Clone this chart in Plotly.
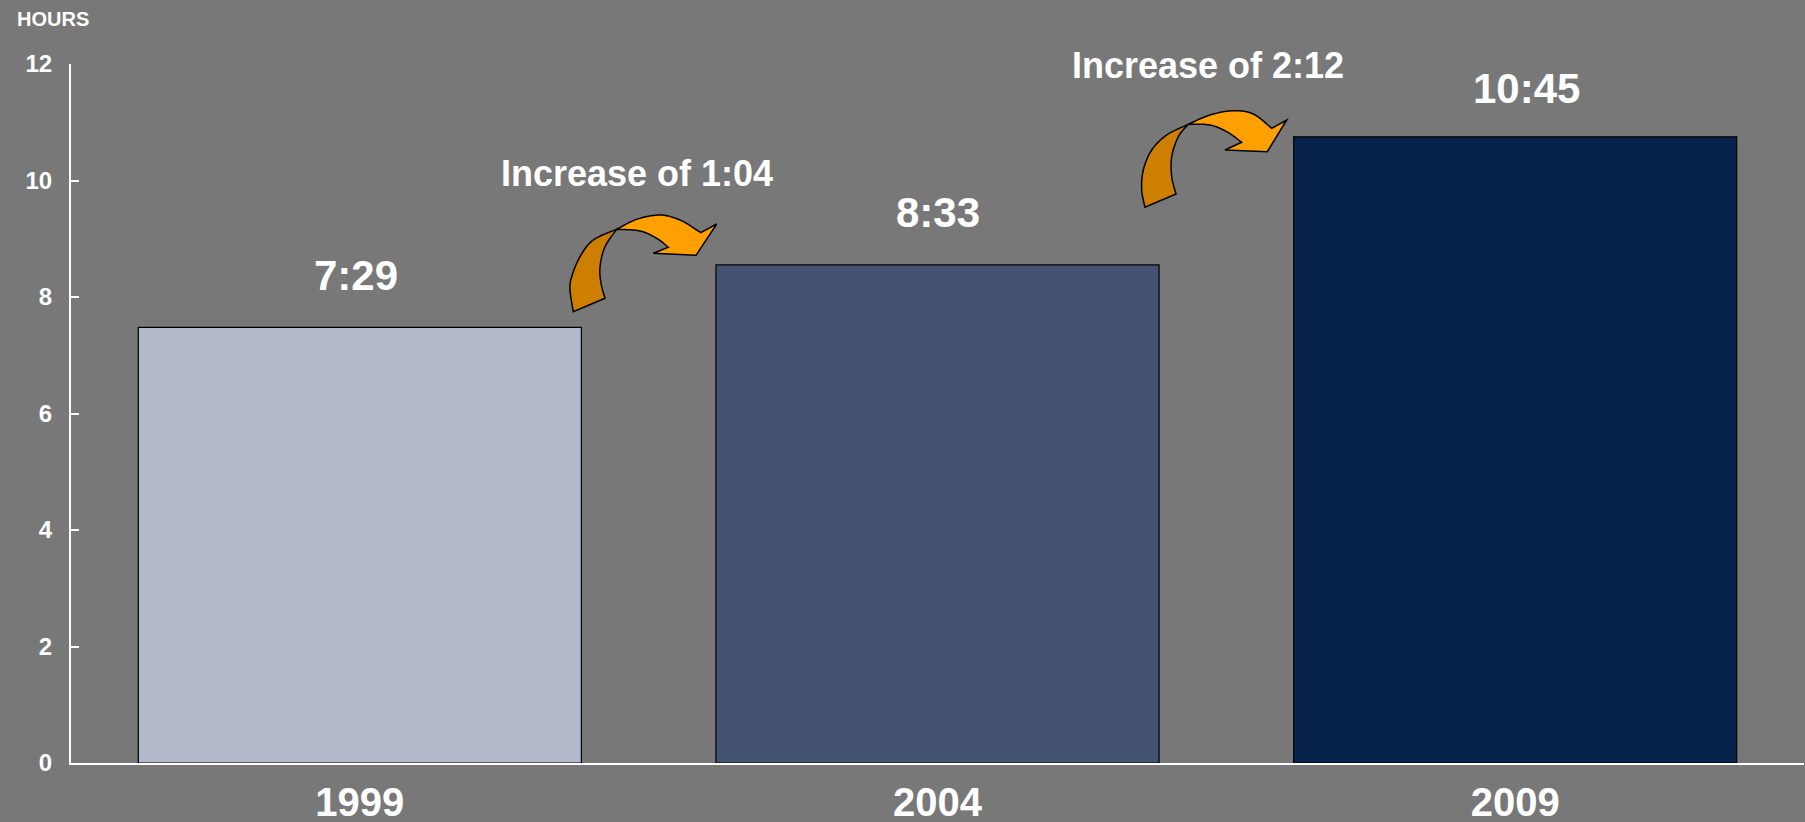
import plotly.graph_objects as go

# ---------------- data ----------------
years = ["1999", "2004", "2009"]
hours = [7.48, 8.55, 10.75]          # 7:29, 8:33, 10:45
value_labels = ["7:29", "8:33", "10:45"]
bar_colors = ["#B4B8CB", "#445272", "#07224B"]
increase_labels = ["Increase of 1:04", "Increase of 2:12"]
y_ticks = [0, 2, 4, 6, 8, 10, 12]

# ---------------- layout constants ----------------
W, H = 1805, 822
L, R, T, B = 71, 1, 64, 59
PW, PH = W - L - R, H - T - B
BG = "#787878"
FONT = "Arial, Liberation Sans, sans-serif"


def p2paper(px, py):
    return (px - L) / PW, (H - B - py) / PH


def catmull(pts, n=10):
    """smooth curve through the given pixel points"""
    out = []
    P = [pts[0]] + list(pts) + [pts[-1]]
    for i in range(1, len(P) - 2):
        p0, p1, p2, p3 = P[i - 1], P[i], P[i + 1], P[i + 2]
        for k in range(n):
            t = k / n
            t2, t3 = t * t, t * t * t
            x = 0.5 * ((2 * p1[0]) + (-p0[0] + p2[0]) * t + (2 * p0[0] - 5 * p1[0] + 4 * p2[0] - p3[0]) * t2 + (-p0[0] + 3 * p1[0] - 3 * p2[0] + p3[0]) * t3)
            y = 0.5 * ((2 * p1[1]) + (-p0[1] + p2[1]) * t + (2 * p0[1] - 5 * p1[1] + 4 * p2[1] - p3[1]) * t2 + (-p0[1] + 3 * p1[1] - 3 * p2[1] + p3[1]) * t3)
            out.append((x, y))
    out.append(pts[-1])
    return out


def build_path(segments):
    pts = []
    for kind, seg in segments:
        if kind == "c":
            pts += catmull(seg)
        else:
            pts += list(seg)
    s = []
    for i, (x, y) in enumerate(pts):
        xp, yp = p2paper(x, y)
        s.append(("M" if i == 0 else "L") + f"{xp:.5f},{yp:.5f}")
    return " ".join(s) + " Z"


# arrow outlines (pixel geometry of the decorative curved arrows)
arrow1_dark = [
    ("c", [(616.7, 229.3), (593.3, 240), (580, 256.7), (571.7, 276.7), (570, 290), (573.3, 311.7)]),
    ("l", [(605, 298.3)]),
    ("c", [(605, 298.3), (601, 283.3), (600, 266.7), (605, 246.7), (616.7, 229.3)]),
]
arrow1_light = [
    ("c", [(616.7, 229.3), (636.7, 219.3), (660, 215), (680, 220), (696.7, 230), (700.7, 232.7)]),
    ("l", [(716.7, 224), (696, 255.3), (653.3, 253.3), (668.3, 247.3)]),
    ("c", [(668.3, 247.3), (656.7, 238.3), (640, 231), (616.7, 229.3)]),
]
arrow2_dark = [
    ("c", [(1188.3, 124.3), (1166.7, 135), (1151.7, 150), (1143.3, 170), (1141.7, 190), (1145, 207.3)]),
    ("l", [(1176, 194)]),
    ("c", [(1176, 194), (1171.7, 176.7), (1171.7, 156.7), (1178.3, 136.7), (1188.3, 124.3)]),
]
arrow2_light = [
    ("c", [(1188.3, 124.3), (1210, 115), (1233.3, 110.7), (1253.3, 114), (1271.7, 128.3)]),
    ("l", [(1286.7, 120), (1267.3, 151.7), (1225, 150), (1241.7, 142.3)]),
    ("c", [(1241.7, 142.3), (1226.7, 131.7), (1210, 125), (1188.3, 124.3)]),
]

fig = go.Figure()
fig.add_trace(go.Bar(
    x=list(range(len(years))),
    y=hours,
    width=0.767,
    marker=dict(color=bar_colors, line=dict(color="black", width=1.2)),
    hoverinfo="skip",
    showlegend=False,
))

annotations = []
xshifts = [-4, 0, 11]
yshifts = [26, 27, 23]
for i, (v, lab) in enumerate(zip(hours, value_labels)):
    annotations.append(dict(
        x=i, y=v, text=f"<b>{lab}</b>", showarrow=False, xref="x", yref="y",
        yanchor="bottom", yshift=yshifts[i], xshift=xshifts[i],
        font=dict(family=FONT, size=42, color="white"),
    ))

for lab, (cx, by) in zip(increase_labels, [(637, 185), (1208, 77)]):
    xp, yp = p2paper(cx, by + 9)
    annotations.append(dict(
        x=xp, y=yp, xref="paper", yref="paper", text=f"<b>{lab}</b>", showarrow=False,
        xanchor="center", yanchor="bottom", yshift=-2,
        font=dict(family=FONT, size=36, color="white"),
    ))

xp, yp = p2paper(15, 32)
annotations.append(dict(
    x=xp, y=yp, xref="paper", yref="paper", text="<b>HOURS</b>", showarrow=False,
    xanchor="left", yanchor="bottom", font=dict(family=FONT, size=20, color="white"),
))

shapes = []
for segs, col in [(arrow1_dark, "#CC7F00"), (arrow1_light, "#FF9F00"),
                  (arrow2_dark, "#CC7F00"), (arrow2_light, "#FF9F00")]:
    shapes.append(dict(type="path", path=build_path(segs), xref="paper", yref="paper",
                       fillcolor=col, line=dict(color="black", width=1.5), layer="above"))

fig.update_layout(
    width=W, height=H,
    margin=dict(l=L, r=R, t=T, b=B, pad=0, autoexpand=False),
    paper_bgcolor=BG, plot_bgcolor=BG,
    font=dict(family=FONT, color="white"),
    annotations=annotations,
    shapes=shapes,
    bargap=0.233,
)
fig.update_xaxes(
    range=[-0.5, 2.5], tickvals=list(range(len(years))), ticktext=[f"<b>{y}</b>" for y in years],
    tickfont=dict(family=FONT, size=40, color="white"),
    showline=True, linecolor="white", linewidth=2, ticks="", showgrid=False, zeroline=False,
    ticklabelstandoff=3, fixedrange=True, automargin=False,
)
fig.update_yaxes(
    range=[0, 12], tickvals=y_ticks, ticktext=[f"<b>{t}</b>" for t in y_ticks],
    tickfont=dict(family=FONT, size=24, color="white"),
    showline=True, linecolor="white", linewidth=2, ticks="inside", ticklen=8, tickwidth=2,
    tickcolor="white", showgrid=False, zeroline=False, ticklabelstandoff=12, fixedrange=True,
    automargin=False,
)

fig.write_html("out.html")
